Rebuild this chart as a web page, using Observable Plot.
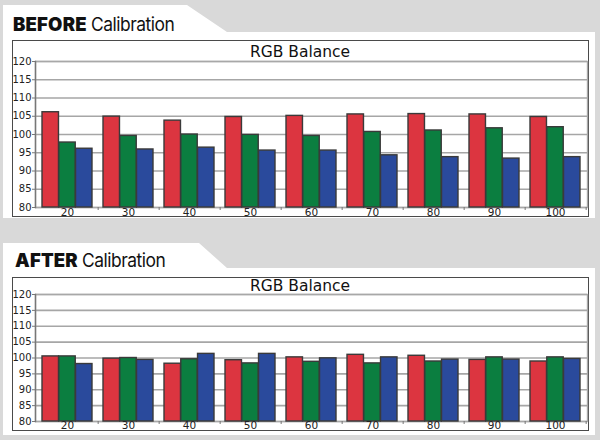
<!DOCTYPE html>
<html>
<head>
<meta charset="utf-8">
<script src="https://cdn.jsdelivr.net/npm/d3@7"></script>
<script src="https://cdn.jsdelivr.net/npm/@observablehq/plot@0.6"></script>
<style>
  html, body { margin: 0; padding: 0; }
  body { width: 600px; height: 440px; background: #d9d9d9; position: relative; overflow: hidden; font-family: "DejaVu Sans", Verdana, sans-serif; }
  .panel { position: absolute; background: #fff; left: 3px; width: 592px; }
  .heading { position: absolute; font-family: Inter, "Open Sans", sans-serif; font-size: 18.5px; color: #111; white-space: nowrap; line-height: 1; }
  .heading b { font-weight: 900; letter-spacing: 0.2px; display: inline-block; }
  .heading span { font-weight: 400; letter-spacing: -0.5px; display: inline-block; transform: scaleX(0.94); transform-origin: left center; margin-left: 4px; }
  .box { position: absolute; left: 12px; width: 575px; border: 1.5px solid #4a4a4a; box-sizing: content-box; }
  .ctitle { position: absolute; left: 0; width: 600px; text-align: center; font-family: "DejaVu Sans", sans-serif; font-size: 15.5px; color: #111; line-height: 1; }
  .chart { position: absolute; left: 0; }
  .chart svg { overflow: visible; }
</style>
</head>
<body>
<div class="panel" id="p1" style="top:5px;height:213px;clip-path:polygon(0 0,184px 0,224px 27px,100% 27px,100% 100%,0 100%);"></div>
<div class="panel" id="p2" style="top:243px;height:192px;clip-path:polygon(0 0,196px 0,224px 25px,100% 25px,100% 100%,0 100%);"></div>
<div class="heading" style="left:13px;top:15px;"><b>BEFORE</b><span>Calibration</span></div>
<div class="heading" style="left:15px;top:251px;"><b>AFTER</b><span>Calibration</span></div>
<div class="box" style="top:40px;height:175px;"></div>
<div class="box" style="top:277px;height:152px;"></div>
<div class="ctitle" style="top:45px;">RGB Balance</div>
<div class="ctitle" style="top:279px;">RGB Balance</div>
<div class="chart" id="c1" style="top:56px;"></div>
<div class="chart" id="c2" style="top:289px;"></div>
<script>
// ---- data ----
const levels = [20, 30, 40, 50, 60, 70, 80, 90, 100];
const yTicks = [80, 85, 90, 95, 100, 105, 110, 115, 120];
const beforeRed   = [106.1, 104.9, 103.8, 104.8, 105.1, 105.5, 105.6, 105.5, 104.8];
const beforeGreen = [97.8, 99.6, 100.0, 99.9, 99.6, 100.7, 101.1, 101.7, 102.0];
const beforeBlue  = [96.1, 95.9, 96.4, 95.6, 95.6, 94.3, 93.8, 93.4, 93.8];
const afterRed    = [100.5, 99.8, 98.2, 99.3, 100.2, 101.0, 100.7, 99.4, 98.9];
const afterGreen  = [100.5, 100.0, 99.6, 98.3, 98.8, 98.3, 98.9, 100.2, 100.2];
const afterBlue   = [98.1, 99.4, 101.3, 101.3, 99.9, 100.2, 99.5, 99.5, 99.7];

const colors = {red: "#dc3540", green: "#0b7e40", blue: "#2a4a9c"};

function makeChart(red, green, blue, plotH, labelPad) {
  const width = 600, mL = 35, mR = 13, mT = 5, mB = 13;
  const pIn = 0.18, pOut = 0.09;
  const plotW = width - mL - mR;
  const step = plotW / (levels.length - pIn + 2 * pOut);
  const bw = step * (1 - pIn);
  const third = bw / 3;
  const barStyle = {stroke: "#3a3a3a", strokeWidth: 1.4};
  return Plot.plot({
    width, height: plotH + mT + mB,
    marginLeft: mL, marginRight: mR, marginTop: mT, marginBottom: mB,
    style: {fontFamily: "DejaVu Sans, sans-serif", fontSize: "10px", color: "#222", background: "transparent", overflow: "visible"},
    x: {type: "band", domain: levels, paddingInner: pIn, paddingOuter: pOut, axis: null},
    y: {domain: [80, 120], axis: null},
    marks: [
      Plot.gridY(yTicks, {stroke: "#a6a6a6", strokeOpacity: 1, strokeWidth: 1.7}),
      Plot.frame({stroke: "#a8a8a8", strokeWidth: 1.4}),
      Plot.frame({anchor: "left", stroke: "#777", strokeWidth: 1.4}),
      Plot.barY(levels, {x: levels, y1: 80, y2: red, fill: colors.red, insetRight: 2 * third, ...barStyle}),
      Plot.barY(levels, {x: levels, y1: 80, y2: green, fill: colors.green, insetLeft: third, insetRight: third, ...barStyle}),
      Plot.barY(levels, {x: levels, y1: 80, y2: blue, fill: colors.blue, insetLeft: 2 * third, ...barStyle}),
      Plot.axisY(yTicks, {tickSize: 3, tickPadding: 1, stroke: "#777", fill: "#222", label: null, tickFormat: d => String(d)}),
      Plot.axisX(levels, {tickSize: 3, text: null, dx: step / 2, stroke: "#777", label: null}),
      Plot.axisX(levels, {tickSize: 0, tickPadding: labelPad, fill: "#222", label: null, tickFormat: d => String(d), fontSize: 10.5})
    ]
  });
}

document.getElementById("c1").appendChild(makeChart(beforeRed, beforeGreen, beforeBlue, 146, 1));
document.getElementById("c2").appendChild(makeChart(afterRed, afterGreen, afterBlue, 127, 0));
</script>
</body>
</html>
